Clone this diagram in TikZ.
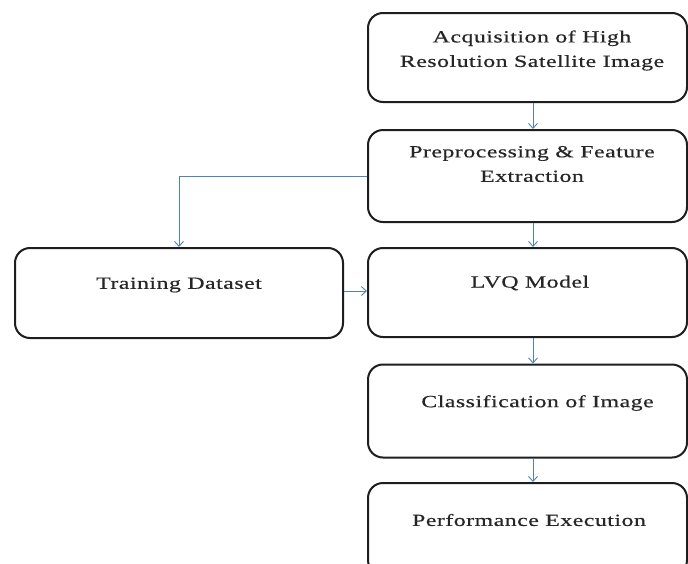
\documentclass[tikz,border=0pt]{standalone}
\usepackage{fontspec}
\setmainfont{Liberation Serif}[FakeStretch=1.4,LetterSpace=3,FakeBold=0.5]
\usetikzlibrary{arrows.meta,calc}
\definecolor{linkblue}{RGB}{79,129,189}
\definecolor{boxline}{RGB}{30,30,30}
\begin{document}
\begin{tikzpicture}[x=1pt,y=-1pt,
  box/.style={draw=boxline,line width=2pt,rounded corners=15pt,fill=white,
    minimum width=319pt,minimum height=90pt,inner sep=0pt},
  txt/.style={text=black!85,font=\fontsize{17}{24.5}\selectfont,align=center,inner sep=0pt},
  link/.style={draw=linkblue,line width=0.9pt,-{Straight Barb[length=5pt,width=9pt]}}]
\useasboundingbox (0,0) rectangle (688,563);
\clip (0,0) rectangle (688,563);
\fill[white] (0,0) rectangle (688,563);

\node[box,minimum height=89pt,label={[txt,xshift=4.5pt,yshift=7pt]center:Acquisition of High\\Resolution Satellite Image}] (acq) at (527.5,57.5) {};
\node[box,minimum height=92pt,label={[txt,xshift=4.5pt,yshift=12pt]center:Preprocessing \& Feature\\Extraction}] (pre) at (527.5,176) {};
\node[box,minimum width=328pt,label={[txt,yshift=8pt]center:Training Dataset}] (train) at (179,293) {};
\node[box,minimum height=89pt,label={[txt,xshift=2.5pt,yshift=9.5pt]center:LVQ Model}] (lvq) at (527.5,292.5) {};
\node[box,minimum height=93pt,label={[txt,xshift=10pt,yshift=8pt]center:Classification of Image}] (cls) at (527.5,411) {};
\node[box,minimum height=92pt,label={[txt,xshift=1.5pt,yshift=9pt]center:Performance Execution}] (perf) at (527.5,529) {};

\draw[link] ([xshift=5.5pt]acq.south) -- ([xshift=5.5pt]pre.north);
\draw[link] ([xshift=5.5pt]pre.south) -- ([xshift=5.5pt]lvq.north);
\draw[link] ([xshift=5.5pt]lvq.south) -- ([xshift=5.5pt]cls.north);
\draw[link] ([xshift=5.5pt]cls.south) -- ([xshift=5.5pt]perf.north);
\draw[link] (pre.west) -- (pre.west -| train.north) -- (train.north);
\draw[link] ([yshift=2pt]train.east) -- ([yshift=2pt]train.east -| lvq.west);
\end{tikzpicture}
\end{document}
